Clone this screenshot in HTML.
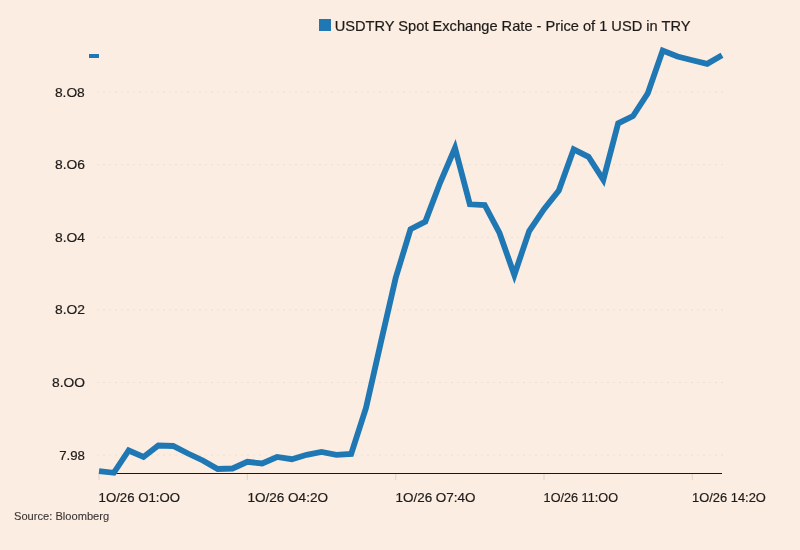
<!DOCTYPE html>
<html><head><meta charset="utf-8"><style>
html,body{margin:0;padding:0;background:#fbede2;}
svg{display:block;will-change:transform;}
.src{fill:#3b3633;stroke:#3b3633;stroke-width:0.1px;}
text{font-family:"Liberation Sans",sans-serif;fill:#1f1b19;stroke:#1f1b19;stroke-width:0.2px;}
</style></head><body>
<svg width="800" height="550" viewBox="0 0 800 550">
<rect width="800" height="550" fill="#fbede2"/>
<rect x="319" y="19" width="12" height="12" fill="#1f77b4"/>
<rect x="89" y="54" width="10" height="4" fill="#1f77b4"/>
<line x1="97" y1="92.1" x2="726" y2="92.1" stroke="#ebded3" stroke-width="1" stroke-dasharray="2,4"/>
<line x1="97" y1="164.7" x2="726" y2="164.7" stroke="#ebded3" stroke-width="1" stroke-dasharray="2,4"/>
<line x1="97" y1="237.3" x2="726" y2="237.3" stroke="#ebded3" stroke-width="1" stroke-dasharray="2,4"/>
<line x1="97" y1="309.8" x2="726" y2="309.8" stroke="#ebded3" stroke-width="1" stroke-dasharray="2,4"/>
<line x1="97" y1="382.4" x2="726" y2="382.4" stroke="#ebded3" stroke-width="1" stroke-dasharray="2,4"/>
<line x1="97" y1="455.0" x2="726" y2="455.0" stroke="#ebded3" stroke-width="1" stroke-dasharray="2,4"/>
<line x1="99" y1="473.5" x2="722" y2="473.5" stroke="#1a1614" stroke-width="1"/>
<line x1="99.0" y1="474" x2="99.0" y2="480" stroke="#e0d3c8" stroke-width="1"/>
<line x1="247.3" y1="474" x2="247.3" y2="480" stroke="#e0d3c8" stroke-width="1"/>
<line x1="395.7" y1="474" x2="395.7" y2="480" stroke="#e0d3c8" stroke-width="1"/>
<line x1="544.0" y1="474" x2="544.0" y2="480" stroke="#e0d3c8" stroke-width="1"/>
<line x1="692.3" y1="474" x2="692.3" y2="480" stroke="#e0d3c8" stroke-width="1"/>
<polyline points="99.00,471.2 113.83,472.8 128.67,450.5 143.50,457.0 158.33,445.5 173.17,446.0 188.00,453.5 202.83,460.5 217.67,469.0 232.50,468.5 247.33,461.8 262.17,463.5 277.00,457.0 291.83,459.2 306.67,454.8 321.50,452.0 336.33,454.8 351.17,453.9 366.00,408.0 380.83,342.5 395.67,278.0 410.50,229.3 425.33,221.6 440.17,182.5 455.00,148.0 469.83,204.3 484.67,205.0 499.50,233.0 514.33,275.0 529.17,231.0 544.00,209.2 558.83,190.6 573.67,149.3 588.50,156.8 603.33,179.8 618.17,123.3 633.00,116.0 647.83,93.3 662.67,50.5 677.50,56.5 692.33,60.3 707.17,63.8 722.00,55.3" fill="none" stroke="#1f77b4" stroke-width="5.8" stroke-linejoin="miter" stroke-linecap="butt"/>
<text x="334.70" y="30.6" font-size="14.5" textLength="355.80" lengthAdjust="spacingAndGlyphs">USDTRY Spot Exchange Rate - Price of 1 USD in TRY</text>
<text x="54.90" y="96.6" font-size="13" textLength="29.90" lengthAdjust="spacingAndGlyphs">8.O8</text>
<text x="55.00" y="168.9" font-size="13" textLength="30.00" lengthAdjust="spacingAndGlyphs">8.O6</text>
<text x="55.00" y="241.6" font-size="13" textLength="30.00" lengthAdjust="spacingAndGlyphs">8.O4</text>
<text x="55.00" y="313.9" font-size="13" textLength="30.00" lengthAdjust="spacingAndGlyphs">8.O2</text>
<text x="52.00" y="386.8" font-size="13" textLength="33.00" lengthAdjust="spacingAndGlyphs">8.OO</text>
<text x="59.20" y="459.9" font-size="13" textLength="25.70" lengthAdjust="spacingAndGlyphs">7.98</text>
<text x="98.60" y="502" font-size="13" textLength="81.40" lengthAdjust="spacingAndGlyphs">1O/26 O1:OO</text>
<text x="247.40" y="502" font-size="13" textLength="80.60" lengthAdjust="spacingAndGlyphs">1O/26 O4:2O</text>
<text x="395.50" y="502" font-size="13" textLength="80.00" lengthAdjust="spacingAndGlyphs">1O/26 O7:4O</text>
<text x="543.60" y="502" font-size="13" textLength="74.40" lengthAdjust="spacingAndGlyphs">1O/26 11:OO</text>
<text x="692.00" y="502" font-size="13" textLength="73.90" lengthAdjust="spacingAndGlyphs">1O/26 14:2O</text>
<text class="src" x="14.00" y="520.2" font-size="11" textLength="95.20" lengthAdjust="spacingAndGlyphs">Source: Bloomberg</text>
</svg>
</body></html>
